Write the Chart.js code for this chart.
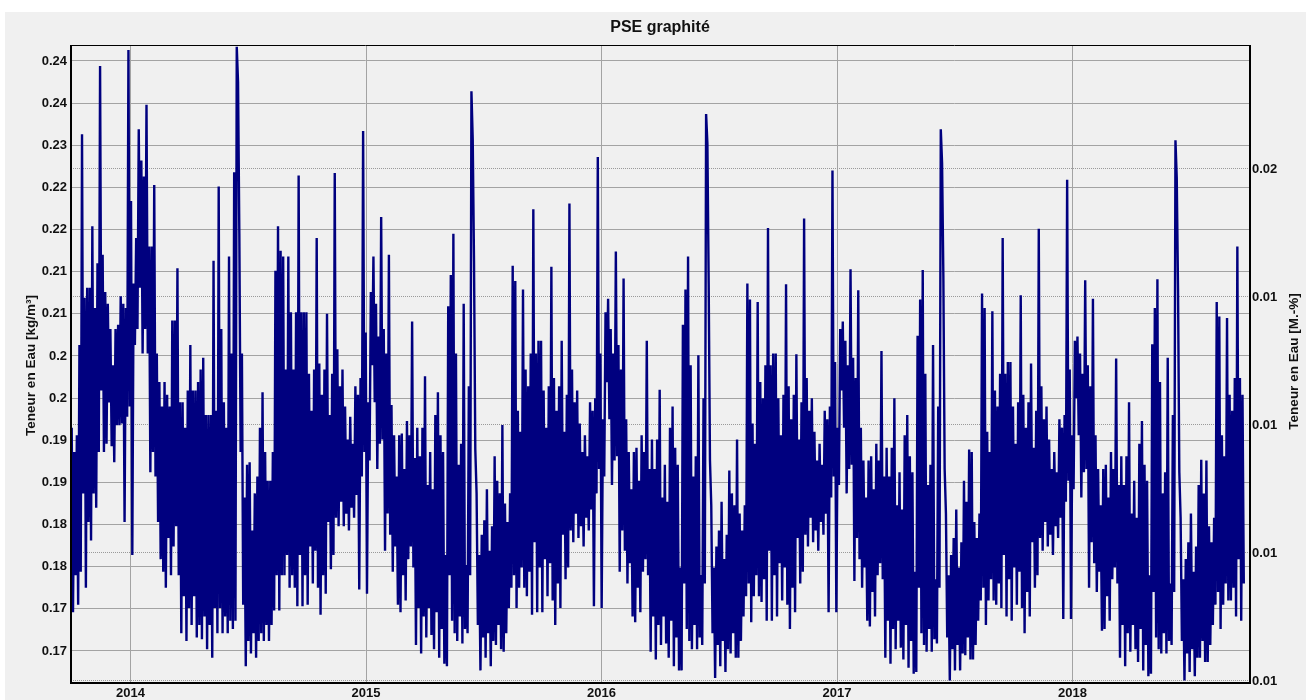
<!DOCTYPE html>
<html>
<head>
<meta charset="utf-8">
<title>PSE graphité</title>
<script src="https://cdn.jsdelivr.net/npm/chart.js@4/dist/chart.umd.min.js"></script>
<style>
  html, body { margin: 0; padding: 0; background: #ffffff; }
  #wrap { position: relative; width: 1306px; height: 700px; }
  canvas { display: block; }
</style>
</head>
<body>
<div id="wrap"><canvas id="chart" width="1306" height="700"></canvas></div>
<script>
// Texts
const chartTitle = 'PSE graphité';
const leftAxisTitle = 'Teneur en Eau [kg/m³]';
const rightAxisTitle = 'Teneur en Eau [M.-%]';

// Axis ticks and their printed labels
const yearTicks = [2014, 2015, 2016, 2017, 2018];
const yearLabels = ['2014', '2015', '2016', '2017', '2018'];
const leftTicks = [0.170, 0.175, 0.180, 0.185, 0.190, 0.195, 0.200, 0.205, 0.210, 0.215, 0.220, 0.225, 0.230, 0.235, 0.240];
const leftTickLabels = ['0.17', '0.17', '0.18', '0.18', '0.19', '0.19', '0.2', '0.2', '0.21', '0.21', '0.22', '0.22', '0.23', '0.24', '0.24'];
const rightTicks = [0.0100, 0.0115, 0.0130, 0.0145, 0.0160];
const rightTickLabels = ['0.01', '0.01', '0.01', '0.01', '0.02'];

// Water content [kg/m³], one sample every 2 days, starting in early October 2013
const seriesStart = 2013.75;   // decimal year of the first sample
const sampleDays = 2;

const wc2013_14 = [
  0.1965, 0.1746, 0.1936, 0.1790, 0.1956, 0.1755, 0.2063, 0.1794, 0.2313, 0.1887, 0.2119, 0.1775, 0.2131, 0.1853, 0.2131, 0.1831, 0.2204, 0.1887, 0.2107, 0.1870,
  0.2160, 0.1936, 0.2394, 0.2009, 0.2170, 0.1936, 0.2126, 0.1946, 0.2112, 0.1995, 0.2082, 0.1943, 0.2039, 0.1924, 0.2082, 0.1968, 0.2087, 0.1968, 0.2121, 0.1970,
  0.2112, 0.1853, 0.2107, 0.1978, 0.2413, 0.1990, 0.2234, 0.1814, 0.2136, 0.2063, 0.2190, 0.2082, 0.2319, 0.2131, 0.2282, 0.2053, 0.2263, 0.2082, 0.2348, 0.2053,
  0.2180, 0.1912, 0.2180, 0.1936, 0.2253, 0.1907, 0.2053, 0.1853, 0.2019, 0.1809, 0.1990, 0.1794, 0.2019, 0.1775, 0.2004, 0.1834, 0.1990, 0.1790, 0.2092, 0.1824,
  0.2092, 0.1848, 0.2154, 0.1790, 0.1995, 0.1721, 0.1995, 0.1765, 0.1965, 0.1712, 0.2009, 0.1751, 0.2063, 0.1731, 0.2009, 0.1765, 0.2009, 0.1716, 0.2019, 0.1731,
  0.2034, 0.1714, 0.2048, 0.1741, 0.1980, 0.1702, 0.1980, 0.1731, 0.1980, 0.1692, 0.2163, 0.1751, 0.1985, 0.1721, 0.2251, 0.1751, 0.2082, 0.1721, 0.1995, 0.1741,
  0.1965, 0.1721, 0.2168, 0.1736, 0.2053, 0.1726, 0.2268, 0.1736, 0.2417, 0.2375, 0.2195, 0.1936, 0.2053, 0.1755, 0.1882, 0.1682, 0.1921, 0.1712, 0.1924, 0.1697,
  0.1843, 0.1721, 0.1887, 0.1692, 0.1907, 0.1712, 0.1965, 0.1721, 0.2007, 0.1712, 0.1936, 0.1731, 0.1902, 0.1712, 0.1902, 0.1731, 0.1936, 0.1748, 0.2151, 0.1790,
  0.2204, 0.1748, 0.2175, 0.1790, 0.2168, 0.1790, 0.2034, 0.1814, 0.2168, 0.1775, 0.2102, 0.1790, 0.2034, 0.1775, 0.2102, 0.1753, 0.2264, 0.1814, 0.2102, 0.1753,
  0.2102, 0.1790
];
const wc2014_15 = [
  0.2102, 0.1755, 0.2029, 0.1824, 0.1985, 0.1780, 0.2034, 0.1819, 0.2190, 0.1775, 0.2041, 0.1743, 0.2004, 0.1790, 0.2034, 0.1768, 0.2100, 0.1853, 0.1980, 0.1797,
  0.2029, 0.1814, 0.2267, 0.1858, 0.2058, 0.1848, 0.2014, 0.1877, 0.2034, 0.1848, 0.1990, 0.1863, 0.1951, 0.1843, 0.1978, 0.1870, 0.1946, 0.1858, 0.2014, 0.1885,
  0.2004, 0.1773, 0.2024, 0.1907, 0.2317, 0.1936, 0.2078, 0.1768, 0.1995, 0.1926, 0.2126, 0.2039, 0.2168, 0.1995, 0.2112, 0.1916, 0.2073, 0.1946, 0.2215, 0.1951,
  0.2082, 0.1819, 0.2053, 0.1863, 0.2170, 0.1838, 0.1992, 0.1794, 0.1956, 0.1824, 0.1907, 0.1755, 0.1956, 0.1746, 0.1958, 0.1790, 0.1916, 0.1760, 0.1973, 0.1809,
  0.1956, 0.1824, 0.2091, 0.1799, 0.1929, 0.1707, 0.1965, 0.1751, 0.1931, 0.1697, 0.1965, 0.1741, 0.2026, 0.1716, 0.1897, 0.1751, 0.1936, 0.1719, 0.1892, 0.1702,
  0.1980, 0.1746, 0.2007, 0.1692, 0.1956, 0.1726, 0.1936, 0.1685, 0.1814, 0.1682, 0.2109, 0.1790, 0.2146, 0.1736, 0.2195, 0.1721, 0.2053, 0.1712, 0.1921, 0.1741,
  0.1946, 0.1709, 0.2112, 0.1726, 0.1802, 0.1721, 0.2014, 0.1790, 0.2364, 0.2307, 0.2163, 0.1939, 0.1887, 0.1731, 0.1814, 0.1677, 0.1838, 0.1716, 0.1855, 0.1692,
  0.1892, 0.1721, 0.1819, 0.1682, 0.1848, 0.1712, 0.1931, 0.1707, 0.1902, 0.1731, 0.1887, 0.1702, 0.1968, 0.1699, 0.1875, 0.1721, 0.1853, 0.1751, 0.1887, 0.1775,
  0.2157, 0.1790, 0.2139, 0.1751, 0.1985, 0.1775, 0.1960, 0.1799, 0.2129, 0.1775, 0.2034, 0.1765, 0.2014, 0.1794, 0.2053, 0.1743, 0.2224, 0.1829, 0.2053, 0.1746,
  0.2068, 0.1799
];
const wc2015_16 = [
  0.2068, 0.1746, 0.2009, 0.1809, 0.1965, 0.1765, 0.2014, 0.1804, 0.2156, 0.1760, 0.2024, 0.1731, 0.1985, 0.1780, 0.2014, 0.1751, 0.2068, 0.1838, 0.1960, 0.1785,
  0.2004, 0.1799, 0.2231, 0.1843, 0.2034, 0.1829, 0.1995, 0.1863, 0.2009, 0.1834, 0.1970, 0.1848, 0.1936, 0.1824, 0.1956, 0.1858, 0.1931, 0.1843, 0.1995, 0.1868,
  0.1985, 0.1753, 0.2000, 0.1887, 0.2286, 0.1916, 0.2053, 0.1751, 0.1975, 0.1907, 0.2102, 0.2019, 0.2118, 0.1975, 0.2082, 0.1897, 0.2053, 0.1926, 0.2174, 0.1931,
  0.2063, 0.1794, 0.2034, 0.1843, 0.2142, 0.1819, 0.1975, 0.1780, 0.1936, 0.1804, 0.1892, 0.1741, 0.1936, 0.1734, 0.1941, 0.1775, 0.1902, 0.1746, 0.1956, 0.1794,
  0.1936, 0.1809, 0.2068, 0.1790, 0.1916, 0.1699, 0.1951, 0.1741, 0.1916, 0.1690, 0.1951, 0.1731, 0.2010, 0.1707, 0.1882, 0.1741, 0.1921, 0.1709, 0.1877, 0.1692,
  0.1965, 0.1736, 0.1990, 0.1682, 0.1941, 0.1716, 0.1921, 0.1677, 0.1799, 0.1677, 0.2087, 0.1780, 0.2129, 0.1726, 0.2168, 0.1712, 0.2039, 0.1702, 0.1907, 0.1731,
  0.1931, 0.1702, 0.2051, 0.1716, 0.1790, 0.1707, 0.2000, 0.1780, 0.2337, 0.2302, 0.2136, 0.1926, 0.1873, 0.1721, 0.1799, 0.1668, 0.1824, 0.1707, 0.1843, 0.1682,
  0.1877, 0.1712, 0.1809, 0.1675, 0.1838, 0.1702, 0.1914, 0.1697, 0.1887, 0.1721, 0.1873, 0.1692, 0.1951, 0.1692, 0.1863, 0.1712, 0.1843, 0.1741, 0.1873, 0.1765,
  0.2136, 0.1780, 0.2117, 0.1734, 0.1970, 0.1765, 0.1946, 0.1790, 0.2114, 0.1765, 0.2019, 0.1758, 0.2000, 0.1785, 0.2039, 0.1736, 0.2202, 0.1819, 0.2039, 0.1736,
  0.2053, 0.1790
];
const wc2016_17 = [
  0.2053, 0.1741, 0.2000, 0.1804, 0.1956, 0.1760, 0.2004, 0.1799, 0.2135, 0.1755, 0.2014, 0.1726, 0.1975, 0.1775, 0.2004, 0.1746, 0.2052, 0.1834, 0.1951, 0.1780,
  0.1995, 0.1794, 0.2213, 0.1838, 0.2024, 0.1824, 0.1985, 0.1858, 0.2000, 0.1829, 0.1960, 0.1843, 0.1926, 0.1819, 0.1946, 0.1853, 0.1921, 0.1838, 0.1985, 0.1863,
  0.1975, 0.1746, 0.1990, 0.1882, 0.2270, 0.1907, 0.2043, 0.1746, 0.1965, 0.1897, 0.2082, 0.2009, 0.2091, 0.1965, 0.2068, 0.1887, 0.2039, 0.1916, 0.2153, 0.1921,
  0.2048, 0.1783, 0.2024, 0.1834, 0.2128, 0.1809, 0.1965, 0.1775, 0.1926, 0.1799, 0.1882, 0.1736, 0.1926, 0.1729, 0.1931, 0.1770, 0.1892, 0.1741, 0.1946, 0.1790,
  0.1926, 0.1804, 0.2056, 0.1785, 0.1907, 0.1692, 0.1941, 0.1736, 0.1907, 0.1685, 0.1941, 0.1726, 0.2000, 0.1702, 0.1873, 0.1736, 0.1912, 0.1704, 0.1868, 0.1690,
  0.1956, 0.1731, 0.1980, 0.1680, 0.1931, 0.1712, 0.1912, 0.1673, 0.1794, 0.1675, 0.2074, 0.1775, 0.2117, 0.1721, 0.2152, 0.1707, 0.2029, 0.1699, 0.1897, 0.1726,
  0.1921, 0.1699, 0.2063, 0.1714, 0.1785, 0.1709, 0.1990, 0.1775, 0.2319, 0.2279, 0.2145, 0.1916, 0.1863, 0.1716, 0.1790, 0.1665, 0.1814, 0.1702, 0.1834, 0.1677,
  0.1868, 0.1707, 0.1799, 0.1677, 0.1829, 0.1697, 0.1902, 0.1695, 0.1877, 0.1716, 0.1939, 0.1690, 0.1936, 0.1690, 0.1853, 0.1707, 0.1834, 0.1736, 0.1863, 0.1760,
  0.2124, 0.1775, 0.2107, 0.1731, 0.1960, 0.1760, 0.1936, 0.1785, 0.2103, 0.1760, 0.2009, 0.1755, 0.1990, 0.1780, 0.2029, 0.1751, 0.2190, 0.1814, 0.2029, 0.1741,
  0.2043, 0.1785
];
const wc2017_18 = [
  0.2043, 0.1736, 0.1990, 0.1799, 0.1946, 0.1755, 0.1995, 0.1794, 0.2122, 0.1751, 0.2004, 0.1721, 0.1965, 0.1770, 0.1995, 0.1741, 0.2041, 0.1829, 0.1941, 0.1775,
  0.1985, 0.1790, 0.2201, 0.1834, 0.2014, 0.1819, 0.1975, 0.1853, 0.1990, 0.1824, 0.1951, 0.1838, 0.1916, 0.1814, 0.1936, 0.1848, 0.1912, 0.1834, 0.1975, 0.1858,
  0.1965, 0.1738, 0.1980, 0.1877, 0.2259, 0.1902, 0.2034, 0.1738, 0.1956, 0.1892, 0.2068, 0.2000, 0.2073, 0.1956, 0.2053, 0.1882, 0.2029, 0.1912, 0.2140, 0.1916,
  0.2039, 0.1775, 0.2014, 0.1829, 0.2118, 0.1804, 0.1956, 0.1770, 0.1916, 0.1794, 0.1873, 0.1724, 0.1916, 0.1726, 0.1921, 0.1765, 0.1882, 0.1736, 0.1936, 0.1785,
  0.1916, 0.1799, 0.2047, 0.1780, 0.1897, 0.1692, 0.1931, 0.1731, 0.1897, 0.1682, 0.1931, 0.1721, 0.1995, 0.1699, 0.1863, 0.1731, 0.1902, 0.1702, 0.1858, 0.1687,
  0.1946, 0.1726, 0.1973, 0.1677, 0.1921, 0.1707, 0.1902, 0.1670, 0.1790, 0.1673, 0.2064, 0.1770, 0.2107, 0.1716, 0.2141, 0.1702, 0.2019, 0.1697, 0.1887, 0.1721,
  0.1912, 0.1697, 0.2048, 0.1712, 0.1780, 0.1707, 0.1980, 0.1770, 0.2306, 0.2261, 0.2129, 0.1912, 0.1858, 0.1712, 0.1785, 0.1665, 0.1809, 0.1697, 0.1829, 0.1675,
  0.1863, 0.1702, 0.1794, 0.1670, 0.1824, 0.1692, 0.1897, 0.1692, 0.1927, 0.1712, 0.1887, 0.1687, 0.1926, 0.1687, 0.1848, 0.1707, 0.1829, 0.1731, 0.1858, 0.1755,
  0.2114, 0.1770, 0.2097, 0.1726, 0.1956, 0.1755, 0.1931, 0.1780, 0.2095, 0.1760, 0.2004, 0.1760, 0.1985, 0.1775, 0.2024, 0.1741, 0.2180, 0.1809, 0.2024, 0.1736,
  0.2004, 0.1780
];

// Build the time series as {x: decimal year, y: value}
const waterContent = [].concat(wc2013_14, wc2014_15, wc2015_16, wc2016_17, wc2017_18);
const points = waterContent.map((v, i) => ({ x: seriesStart + i * sampleDays / 365.25, y: v }));

const FONT = 'Liberation Sans, Arial, Helvetica, sans-serif';
const TEXT = '#111111';
const GRID = '#a3a3a3';

// Grey panel, black plot frame, title and both axis titles
const decorations = {
  id: 'decorations',
  beforeDraw(chart) {
    const ctx = chart.ctx;
    ctx.save();
    ctx.fillStyle = '#ffffff';
    ctx.fillRect(0, 0, chart.width, chart.height);
    ctx.fillStyle = '#f0f0f0';
    ctx.fillRect(5, 12, chart.width - 5, chart.height - 12);
    ctx.restore();
  },
  afterDatasetsDraw(chart) {
    const { ctx, chartArea: a } = chart;
    ctx.save();
    ctx.strokeStyle = '#000000';
    ctx.lineWidth = 1;
    ctx.beginPath();
    ctx.moveTo(a.left, a.top + 0.5);
    ctx.lineTo(a.right, a.top + 0.5);
    ctx.stroke();
    ctx.lineWidth = 2;
    ctx.beginPath();
    ctx.moveTo(a.left, a.top);
    ctx.lineTo(a.left, a.bottom + 1);
    ctx.lineTo(a.right + 1, a.bottom + 1);
    ctx.lineTo(a.right + 1, a.top);
    ctx.stroke();
    ctx.restore();
  },
  afterDraw(chart) {
    const { ctx, chartArea: a } = chart;
    const midY = (a.top + a.bottom) / 2;
    ctx.save();
    ctx.fillStyle = TEXT;
    ctx.textAlign = 'center';
    ctx.textBaseline = 'middle';
    ctx.font = 'bold 16px ' + FONT;
    ctx.fillText(chartTitle, (a.left + a.right) / 2, 28);
    ctx.font = 'bold 13.5px ' + FONT;
    ctx.save();
    ctx.translate(31, midY + 2);
    ctx.rotate(-Math.PI / 2);
    ctx.fillText(leftAxisTitle, 0, 0);
    ctx.restore();
    ctx.save();
    ctx.translate(1294, midY - 2);
    ctx.rotate(-Math.PI / 2);
    ctx.fillText(rightAxisTitle, 0, 0);
    ctx.restore();
    ctx.restore();
  }
};

const tickFont = { family: FONT, size: 13, weight: 'bold' };

new Chart(document.getElementById('chart'), {
  type: 'line',
  data: {
    datasets: [{
      data: points,
      borderColor: '#00007f',
      borderWidth: 2.4,
      borderJoinStyle: 'bevel',
      pointRadius: 0,
      tension: 0,
      fill: false,
      yAxisID: 'y',
      xAxisID: 'x'
    }]
  },
  options: {
    responsive: false,
    animation: false,
    devicePixelRatio: 1,
    parsing: false,
    normalized: true,
    layout: { padding: { top: 45, left: 0, right: 0, bottom: 0 } },
    plugins: {
      legend: { display: false },
      title: { display: false },
      tooltip: { enabled: false }
    },
    scales: {
      x: {
        type: 'linear',
        position: 'bottom',
        min: 2013.747,
        max: 2018.7495,
        afterBuildTicks: s => { s.ticks = yearTicks.map(v => ({ value: v })); },
        afterFit: s => { s.height = 18; },
        grid: { color: GRID, lineWidth: 1, drawTicks: false },
        border: { display: false },
        ticks: {
          padding: 4, color: TEXT, font: tickFont, maxRotation: 0, autoSkip: false,
          callback: (v, i) => yearLabels[i]
        }
      },
      y: {
        type: 'linear',
        position: 'left',
        min: 0.166322,
        max: 0.241898,
        afterBuildTicks: s => { s.ticks = leftTicks.map(v => ({ value: v })); },
        afterFit: s => { s.width = 71; },
        grid: { color: GRID, lineWidth: 1, drawTicks: false },
        border: { display: false },
        ticks: {
          padding: 4, color: TEXT, font: tickFont, autoSkip: false,
          callback: (v, i) => leftTickLabels[i]
        }
      },
      y1: {
        type: 'linear',
        position: 'right',
        min: 0.009988,
        max: 0.0174531,
        afterBuildTicks: s => { s.ticks = rightTicks.map(v => ({ value: v })); },
        afterFit: s => { s.width = 57; },
        grid: { color: '#9a9a9a', lineWidth: 1, drawTicks: false, drawOnChartArea: true },
        border: { display: false, dash: [1, 1] },
        ticks: {
          padding: 3, color: TEXT, font: tickFont, autoSkip: false,
          callback: (v, i) => rightTickLabels[i]
        }
      }
    }
  },
  plugins: [decorations]
});
</script>
</body>
</html>
